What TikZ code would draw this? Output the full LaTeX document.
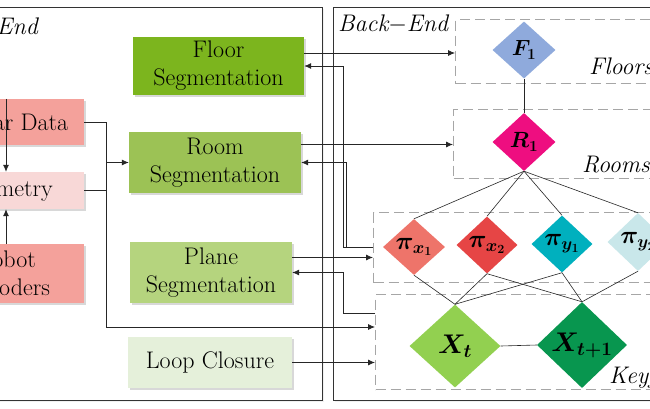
\documentclass[tikz,border=0pt]{standalone}
\usepackage{fix-cm}
\usepackage{amsmath}
\usepackage{bm}
\usetikzlibrary{shapes.geometric,shadows,arrows.meta}

\definecolor{floorc}{HTML}{7CB51E}
\definecolor{roomc}{HTML}{9CC255}
\definecolor{planec}{HTML}{B5D47E}
\definecolor{loopc}{HTML}{E5F0DA}
\definecolor{sensorc}{HTML}{F4A19B}
\definecolor{odomc}{HTML}{F8D8D7}
\definecolor{fonec}{HTML}{8FAADC}
\definecolor{ronec}{HTML}{EE0E80}
\definecolor{pxonec}{HTML}{EE746A}
\definecolor{pxtwoc}{HTML}{E64545}
\definecolor{pyonec}{HTML}{00B0BE}
\definecolor{pytwoc}{HTML}{C9E7EA}
\definecolor{xtc}{HTML}{92D050}
\definecolor{xtonec}{HTML}{08964F}

\begin{document}
\begin{tikzpicture}[x=1pt,y=-1pt,
    module/.style={align=center, inner sep=3pt, font=\fontsize{24}{28}\selectfont,
        drop shadow={shadow xshift=2pt, shadow yshift=-2pt, opacity=0.3}},
    frame/.style={draw=black!80, line width=0.8pt, fill=white, anchor=north west,
        drop shadow={shadow xshift=1.5pt, shadow yshift=-1.5pt, opacity=0.12}},
    layer/.style={draw=black!35, dash pattern=on 10pt off 5pt, line width=1.3pt, anchor=north west},
    factor/.style={diamond, inner sep=0pt, font=\fontsize{25}{30}\selectfont},
    tag/.style={inner sep=0pt, font=\fontsize{24}{28}\selectfont\itshape},
    conn/.style={draw=black!85, line width=0.8pt},
    feed/.style={conn, -{Latex[length=7pt,width=6pt]}},
    edge/.style={draw=black!85, line width=0.6pt}
  ]
  \useasboundingbox (0,0) rectangle (650,408);
  \clip (0,0) rectangle (650,408);

  % front-end and back-end frames
  \node[frame, minimum width=522pt, minimum height=393pt] (front) at (-200,7) {};
  \node[frame, minimum width=467pt, minimum height=393pt] (back) at (333,7) {};
  \node[tag, anchor=base east] (fronttag) at (38,34) {Front{$-$}End};
  \node[tag, anchor=base west] (backtag) at (338,31) {Back{$-$}End};

  % sensors
  \node[module, fill=sensorc, minimum width=138pt, minimum height=46pt] (lidar) at (15,122) {Lidar Data};
  \node[module, fill=odomc, minimum width=160pt, minimum height=37pt] (odom) at (4,190.5) {Odometry};
  \node[module, fill=sensorc, minimum width=156pt, minimum height=59pt] (robot) at (6,273.5) {Robot\\Encoders};

  % front-end modules
  \node[module, fill=floorc, minimum width=171pt, minimum height=58pt] (floor) at (218.5,66) {Floor\\Segmentation};
  \node[module, fill=roomc, minimum width=172pt, minimum height=61pt] (room) at (215,162.5) {Room\\Segmentation};
  \node[module, fill=planec, minimum width=162pt, minimum height=61pt] (plane) at (211,272.5) {Plane\\Segmentation};
  \node[module, fill=loopc, minimum width=164pt, minimum height=51pt] (loop) at (210,362.5) {Loop Closure};

  % graph layers
  \node[layer, minimum width=260pt, minimum height=64pt] (floorsL) at (455,19) {};
  \node[layer, minimum width=260pt, minimum height=69pt] (roomsL) at (453,109) {};
  \node[layer, minimum width=340pt, minimum height=70pt] (planesL) at (373,212) {};
  \node[layer, minimum width=340pt, minimum height=95pt] (kf) at (375,294) {};
  \node[tag, anchor=base west] (floorstag) at (589,74) {Floors};
  \node[tag, anchor=base west] (roomstag) at (582,172) {Rooms};
  \node[tag, anchor=base west] (kftag) at (609,383) {Keyframes};

  % factors
  \node[factor, fill=fonec, minimum width=63pt, minimum height=57pt, font=\fontsize{22}{26}\selectfont] (F1) at (524,50) {$\bm{F_1}$};
  \node[factor, fill=ronec, minimum width=63pt, minimum height=58pt, font=\fontsize{22}{26}\selectfont] (R1) at (524,142) {$\bm{R_1}$};
  \node[factor, fill=pxonec, minimum width=62pt, minimum height=56pt] (px1) at (414,247) {$\bm{\pi_{x_1}}$};
  \node[factor, fill=pxtwoc, minimum width=61pt, minimum height=57pt] (px2) at (487,245) {$\bm{\pi_{x_2}}$};
  \node[factor, fill=pyonec, minimum width=61pt, minimum height=57pt] (py1) at (562,244) {$\bm{\pi_{y_1}}$};
  \node[factor, fill=pytwoc, minimum width=61pt, minimum height=58pt] (py2) at (638,242) {$\bm{\pi_{y_2}}$};
  \node[factor, fill=xtc, minimum width=91pt, minimum height=83pt, font=\fontsize{27}{32}\selectfont] (Xt) at (455,346) {$\bm{X_t}$};
  \node[factor, fill=xtonec, minimum width=90pt, minimum height=85pt, font=\fontsize{27}{32}\selectfont] (Xt1) at (582,345) {$\bm{X_{t+1}}$};

  \draw[edge] (F1.south) -- (R1.north);
  \foreach \p in {px1,px2,py1,py2}
    \draw[edge] (R1.south) -- (\p.north);
  \foreach \p in {px1,px2,py1}
    \draw[edge] (\p.south) -- (Xt.north);
  \foreach \p in {px2,py1,py2}
    \draw[edge] (\p.south) -- (Xt1.north);
  \draw[edge] (Xt.east) -- (Xt1.west);

  % sensor connections
  \coordinate (bus) at (106,0);
  \coordinate (kfA) at (375,327);
  \draw[feed] (lidar.north -| 6,0) -- (odom.north -| 6,0);
  \draw[feed] (robot.north -| 6,0) -- (odom.south -| 6,0);
  \draw[feed] (lidar.east) -| (bus |- kfA) -- (kf.west |- kfA);
  \draw[conn] (odom.east) -- (bus |- odom.east);
  \draw[feed] (bus |- room.west) -- (room.west);

  % front-end to back-end
  \coordinate (fo) at ([yshift=13pt]floor.east);
  \coordinate (ro) at ([yshift=18pt]room.east);
  \coordinate (po) at ([yshift=15pt]plane.east);
  \draw[feed] (fo) -- (fo -| floorsL.west);
  \draw[feed] (ro) -- (ro -| roomsL.west);
  \draw[feed] (po) -- (po -| planesL.west);
  \draw[feed] (loop.east) -- (loop.east -| kf.west);

  % back-end to front-end
  \coordinate (fbA) at (343,0);
  \coordinate (fbB) at (346,0);
  \coordinate (kfB) at (375,313);
  \draw[feed] (planesL.west) -| (fbA |- floor.east) -- (floor.east);
  \draw[feed] (planesL.west) -| (fbB |- room.east) -- (room.east);
  \draw[feed] (kfB) -| (fbA |- plane.east) -- (plane.east);
\end{tikzpicture}
\end{document}
